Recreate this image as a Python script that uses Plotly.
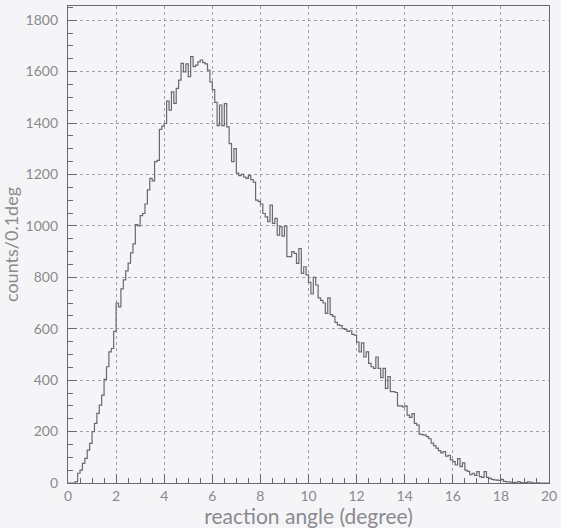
import numpy as np
import plotly.graph_objects as go

bin_width = 0.1
x_start = 0.0
counts = [
    0, 0, 0, 5, 38, 50, 76, 96, 128, 154,
    200, 232, 271, 303, 342, 403, 452, 510, 523, 590,
    700, 685, 755, 790, 825, 855, 895, 930, 1005, 1000,
    1040, 1048, 1085, 1140, 1185, 1175, 1250, 1255, 1375, 1388,
    1398, 1485, 1450, 1521, 1476, 1535, 1567, 1632, 1599, 1630,
    1580, 1658, 1619, 1625, 1638, 1645, 1635, 1630, 1606, 1560,
    1530, 1480, 1390, 1470, 1390, 1475, 1385, 1320, 1250, 1300,
    1205, 1195, 1200, 1190, 1185, 1195, 1180, 1170, 1100, 1095,
    1085, 1048, 1035, 1016, 1081, 1010, 1029, 964, 997, 960,
    999, 880, 880, 900, 893, 854, 912, 815, 841, 809,
    780, 735, 800, 770, 720, 710, 700, 660, 720, 655,
    648, 625, 615, 612, 600, 597, 590, 592, 578, 575,
    548, 510, 545, 490, 510, 465, 452, 446, 490, 446,
    410, 446, 368, 414, 355, 355, 352, 300, 300, 296,
    300, 264, 255, 270, 232, 225, 190, 188, 186, 180,
    172, 155, 145, 136, 126, 117, 122, 104, 108, 90,
    83, 70, 95, 64, 78, 50, 45, 32, 38, 30,
    44, 25, 22, 44, 22, 18, 14, 12, 11, 10,
    14, 6, 4, 4, 3, 2, 3, 5, 2, 1,
    2, 4, 3, 1, 0, 1, 0, 0, 0, 0,
]
x_ticks = [0, 2, 4, 6, 8, 10, 12, 14, 16, 18, 20]
y_ticks = [0, 200, 400, 600, 800, 1000, 1200, 1400, 1600, 1800]
x_title = "reaction angle (degree)"
y_title = "counts/0.1deg"

edges = x_start + bin_width * np.arange(len(counts) + 1)
yy = counts + [counts[-1]]

FONT = "Lato"
TXT = "#8a8a8e"
LINE = "#6a6a6e"
GRID = "#a0a0a6"
BG = "#f5f5f7"

fig = go.Figure()
fig.add_trace(go.Scatter(x=edges, y=yy, mode="lines", line_shape="hv",
                         line=dict(color=LINE, width=1.2), hoverinfo="skip"))

fig.update_layout(
    width=561, height=528,
    margin=dict(l=68, r=12, t=6, b=45, autoexpand=False),
    paper_bgcolor=BG, plot_bgcolor=BG,
    showlegend=False,
    font=dict(family=FONT, color=TXT, size=13),
)
fig.update_xaxes(
    range=[0, 20], tickvals=x_ticks, ticktext=[str(v) for v in x_ticks],
    showline=True, linecolor=LINE, linewidth=1.2, mirror=True,
    ticks="inside", ticklen=9, tickcolor=LINE, tickwidth=1,
    minor=dict(dtick=0.5, ticks="inside", ticklen=5, tickcolor=LINE, showgrid=False),
    showgrid=True, gridcolor=GRID, griddash="dot", gridwidth=1,
    zeroline=False, automargin=False,
    tickfont=dict(family=FONT, size=14, color=TXT),
    title=dict(text=x_title, font=dict(family=FONT, size=21, color=TXT), standoff=3),
)
fig.update_yaxes(
    range=[0, 1855], tickvals=y_ticks, ticktext=[str(v) for v in y_ticks],
    showline=True, linecolor=LINE, linewidth=1.2, mirror=True,
    ticks="inside", ticklen=9, tickcolor=LINE, tickwidth=1,
    minor=dict(dtick=50, ticks="inside", ticklen=5, tickcolor=LINE, showgrid=False),
    showgrid=True, gridcolor=GRID, griddash="dot", gridwidth=1,
    zeroline=False, automargin=False,
    tickfont=dict(family=FONT, size=14, color=TXT),
    ticklabelstandoff=6,
    title=dict(text=y_title, font=dict(family=FONT, size=18, color=TXT), standoff=2),
)

fig.write_html("out.html", config={"displayModeBar": False},
               post_script="document.body.style.margin='0px';document.body.style.background='%s';" % BG)
